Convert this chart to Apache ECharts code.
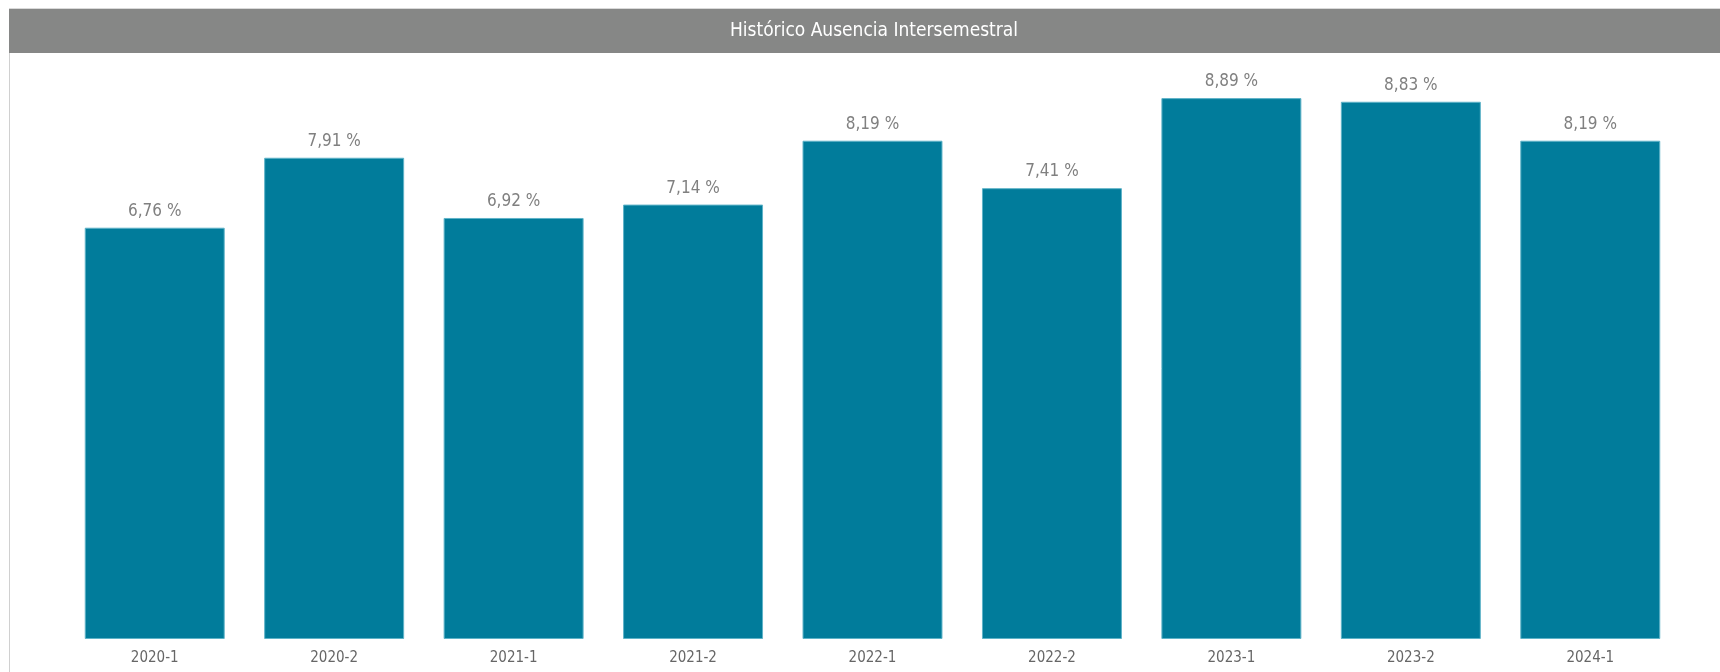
<!DOCTYPE html>
<html>
<head>
<meta charset="utf-8">
<script src="https://cdn.jsdelivr.net/npm/echarts@6/dist/echarts.min.js"></script>
<style>
    html, body { margin: 0; padding: 0; background: #fff; }
    #main { width: 1720px; height: 672px; }
</style>
</head>
<body>
<div id="main"></div>
<script>
var periodos = ['2020-1', '2020-2', '2021-1', '2021-2', '2022-1', '2022-2', '2023-1', '2023-2', '2024-1'];
var ausencia = [6.76, 7.91, 6.92, 7.14, 8.19, 7.41, 8.89, 8.83, 8.19];
var tituloTexto = 'Histórico Ausencia Intersemestral';

var chart = echarts.init(document.getElementById('main'));
var fuente = '"Liberation Sans Narrow", "DejaVu Sans Condensed", sans-serif';

var opt = {
    backgroundColor: '#fff',
    animation: false,
    graphic: [
        {
            type: 'rect',
            shape: {x: 9, y: 8, width: 1711, height: 1},
            style: {fill: '#d9d9d9'}
        },
        {
            type: 'rect',
            shape: {x: 9, y: 9, width: 1711, height: 44},
            style: {fill: '#868786'}
        },
        {
            type: 'rect',
            shape: {x: 9, y: 53, width: 1, height: 619},
            style: {fill: '#d0d0d0'}
        },
        {
            type: 'text',
            x: 874,
            y: 31,
            style: {
                text: tituloTexto,
                fill: '#ffffff',
                font: '19px ' + fuente,
                textAlign: 'center',
                textVerticalAlign: 'middle'
            }
        }
    ],
    grid: {
        left: 65,
        right: 40,
        top: 61,
        bottom: 33,
        containLabel: false
    },
    xAxis: {
        type: 'category',
        data: periodos,
        axisLine: {show: false},
        axisTick: {show: false},
        axisLabel: {
            color: '#666666',
            fontFamily: fuente,
            fontSize: 15,
            margin: 12
        }
    },
    yAxis: {
        type: 'value',
        min: 0,
        max: 9.5,
        show: false,
        splitLine: {show: false}
    },
    series: [
        {
            type: 'bar',
            data: ausencia,
            barCategoryGap: '22%',
            itemStyle: {
                color: '#017c9b',
                borderColor: '#5fb3c8',
                borderWidth: 1
            },
            label: {
                show: true,
                position: 'top',
                distance: 8,
                color: '#808080',
                fontFamily: fuente,
                fontSize: 17,
                formatter: function (p) {
                    return p.value.toFixed(2).replace('.', ',') + ' %';
                }
            }
        }
    ]
};

chart.setOption(opt);
</script>
</body>
</html>
